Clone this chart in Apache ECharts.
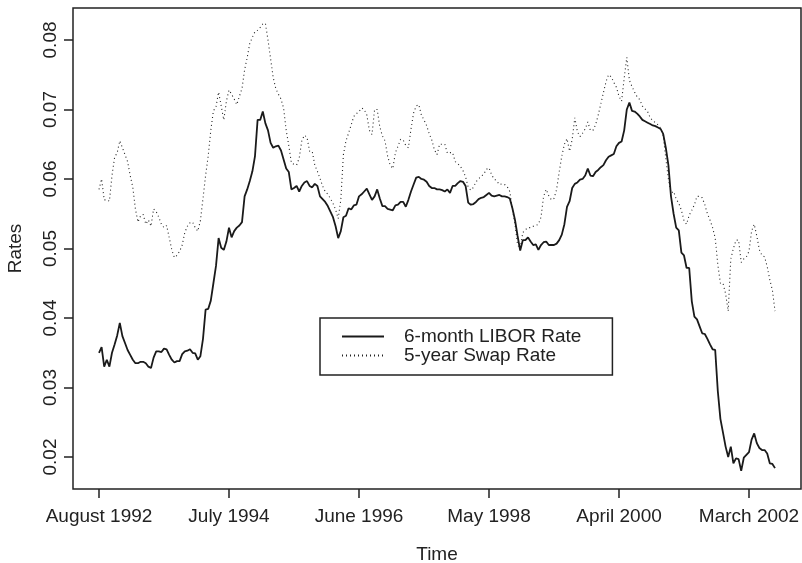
<!DOCTYPE html>
<html>
<head>
<meta charset="utf-8">
<script src="https://cdn.jsdelivr.net/npm/echarts@6/dist/echarts.min.js"></script>
<style>
html, body { margin: 0; padding: 0; background: #fff; }
#chart { width: 802px; height: 563px; }
</style>
</head>
<body>
<div id="chart"></div>
<script>
// weekly series, read every 2 weeks starting August 1992
var sampleStep = 2;

var xTicks = [0, 100, 200, 300, 400, 500];
var xTickLabels = ['August 1992', 'July 1994', 'June 1996', 'May 1998', 'April 2000', 'March 2002'];
var yTicks = [0.02, 0.03, 0.04, 0.05, 0.06, 0.07, 0.08];

var libor = [
    0.0350, 0.0358, 0.0330, 0.0340, 0.0330, 0.0350, 0.0362, 0.0375, 0.0393, 0.0374,
    0.0364, 0.0354, 0.0347, 0.0340, 0.0335, 0.0335, 0.0337, 0.0337, 0.0335, 0.0330,
    0.0328, 0.0343, 0.0352, 0.0352, 0.0351, 0.0356, 0.0355, 0.0347, 0.0340, 0.0336,
    0.0338, 0.0338, 0.0348, 0.0352, 0.0353, 0.0355, 0.0350, 0.0349, 0.0340, 0.0345,
    0.0370, 0.0412, 0.0413, 0.0425, 0.0450, 0.0475, 0.0515, 0.0501, 0.0498, 0.0510,
    0.0530, 0.0516, 0.0525, 0.0530, 0.0533, 0.0538, 0.0575, 0.0585, 0.0597, 0.0611,
    0.0633, 0.0685, 0.0685, 0.0697, 0.0680, 0.0670, 0.0652, 0.0645, 0.0647, 0.0648,
    0.0641, 0.0628, 0.0615, 0.0610, 0.0585, 0.0587, 0.0590, 0.0582, 0.0590, 0.0595,
    0.0597, 0.0590, 0.0588, 0.0593, 0.0590, 0.0575, 0.0571, 0.0567, 0.0561, 0.0553,
    0.0545, 0.0532, 0.0515, 0.0525, 0.0545, 0.0547, 0.0558, 0.0556, 0.0562, 0.0563,
    0.0575, 0.0578, 0.0582, 0.0586, 0.0578, 0.0570, 0.0575, 0.0585, 0.0572, 0.0561,
    0.0561, 0.0557, 0.0556, 0.0555, 0.0562, 0.0563, 0.0567, 0.0567, 0.0560, 0.0570,
    0.0582, 0.0592, 0.0602, 0.0603, 0.0600, 0.0599, 0.0596, 0.0590, 0.0587, 0.0587,
    0.0585, 0.0585, 0.0584, 0.0582, 0.0585, 0.0580, 0.0590, 0.0590, 0.0594, 0.0597,
    0.0596, 0.0590, 0.0566, 0.0563, 0.0564, 0.0567, 0.0571, 0.0573, 0.0574, 0.0577,
    0.0580, 0.0576, 0.0575, 0.0576, 0.0577, 0.0575, 0.0575, 0.0574, 0.0572, 0.0558,
    0.0541, 0.0518, 0.0497, 0.0512, 0.0512, 0.0516, 0.0510, 0.0505, 0.0506, 0.0498,
    0.0505, 0.0509, 0.0510, 0.0505, 0.0505, 0.0505, 0.0507, 0.0512, 0.0520, 0.0535,
    0.0560, 0.0568, 0.0587, 0.0593, 0.0595, 0.0599, 0.0600, 0.0605, 0.0615, 0.0605,
    0.0604, 0.0610, 0.0613, 0.0617, 0.0620, 0.0627, 0.0632, 0.0634, 0.0636, 0.0647,
    0.0652, 0.0654, 0.0670, 0.0700, 0.0710, 0.0698, 0.0697, 0.0694, 0.0690, 0.0685,
    0.0683, 0.0681, 0.0679, 0.0677, 0.0676, 0.0674, 0.0672, 0.0665, 0.0645, 0.0620,
    0.0575, 0.0550, 0.0530, 0.0526, 0.0494, 0.0490, 0.0472, 0.0472, 0.0424, 0.0402,
    0.0398, 0.0388, 0.0378, 0.0377, 0.0370, 0.0362, 0.0355, 0.0354, 0.0295, 0.0255,
    0.0235, 0.0215, 0.0200, 0.0215, 0.0191, 0.0198, 0.0197, 0.0180, 0.0199, 0.0203,
    0.0207, 0.0225, 0.0234, 0.0220, 0.0213, 0.0210, 0.0210, 0.0205, 0.0191, 0.0190,
    0.0184
];

var swap = [
    0.0585, 0.0600, 0.0570, 0.0570, 0.0568, 0.0605, 0.0631, 0.0638, 0.0655, 0.0645,
    0.0635, 0.0625, 0.0605, 0.0588, 0.0557, 0.0538, 0.0547, 0.0549, 0.0535, 0.0541,
    0.0532, 0.0557, 0.0553, 0.0545, 0.0535, 0.0530, 0.0533, 0.0516, 0.0498, 0.0487,
    0.0490, 0.0496, 0.0505, 0.0523, 0.0532, 0.0537, 0.0538, 0.0530, 0.0525, 0.0540,
    0.0572, 0.0605, 0.0633, 0.0670, 0.0698, 0.0704, 0.0725, 0.0705, 0.0685, 0.0712,
    0.0728, 0.0722, 0.0715, 0.0707, 0.0719, 0.0730, 0.0757, 0.0775, 0.0795, 0.0804,
    0.0812, 0.0814, 0.0818, 0.0823, 0.0824, 0.0800, 0.0773, 0.0746, 0.0730, 0.0722,
    0.0715, 0.0702, 0.0670, 0.0648, 0.0623, 0.0621, 0.0620, 0.0630, 0.0655, 0.0663,
    0.0660, 0.0640, 0.0640, 0.0620, 0.0611, 0.0601, 0.0590, 0.0582, 0.0578, 0.0572,
    0.0565, 0.0556, 0.0543, 0.0570, 0.0635, 0.0655, 0.0666, 0.0678, 0.0690, 0.0694,
    0.0697, 0.0702, 0.0700, 0.0692, 0.0670, 0.0664, 0.0700, 0.0700, 0.0675, 0.0662,
    0.0655, 0.0633, 0.0620, 0.0615, 0.0638, 0.0647, 0.0657, 0.0656, 0.0648, 0.0645,
    0.0672, 0.0695, 0.0705, 0.0707, 0.0692, 0.0685, 0.0677, 0.0665, 0.0656, 0.0642,
    0.0635, 0.0650, 0.0650, 0.0650, 0.0637, 0.0638, 0.0638, 0.0625, 0.0622, 0.0618,
    0.0612, 0.0603, 0.0588, 0.0584, 0.0588, 0.0596, 0.0600, 0.0604, 0.0607, 0.0614,
    0.0616, 0.0606, 0.0600, 0.0597, 0.0592, 0.0593, 0.0592, 0.0589, 0.0582, 0.0556,
    0.0535, 0.0505, 0.0500, 0.0523, 0.0527, 0.0530, 0.0530, 0.0532, 0.0533, 0.0535,
    0.0545, 0.0575, 0.0585, 0.0576, 0.0570, 0.0572, 0.0585, 0.0610, 0.0633, 0.0650,
    0.0658, 0.0640, 0.0657, 0.0688, 0.0668, 0.0661, 0.0666, 0.0672, 0.0682, 0.0670,
    0.0670, 0.0678, 0.0692, 0.0708, 0.0724, 0.0740, 0.0750, 0.0747, 0.0739, 0.0732,
    0.0719, 0.0712, 0.0745, 0.0775, 0.0742, 0.0733, 0.0725, 0.0718, 0.0714, 0.0705,
    0.0701, 0.0697, 0.0688, 0.0684, 0.0681, 0.0678, 0.0673, 0.0662, 0.0630, 0.0600,
    0.0580, 0.0582, 0.0571, 0.0565, 0.0555, 0.0540, 0.0535, 0.0548, 0.0555, 0.0563,
    0.0575, 0.0575, 0.0573, 0.0563, 0.0550, 0.0541, 0.0530, 0.0515, 0.0477, 0.0450,
    0.0450, 0.0435, 0.0410, 0.0485, 0.0500, 0.0512, 0.0512, 0.0480, 0.0485, 0.0488,
    0.0496, 0.0525, 0.0535, 0.0518, 0.0498, 0.0490, 0.0488, 0.0474, 0.0455, 0.0440,
    0.0410
];

function toPoints(values) {
    return values.map(function (v, i) { return [i * sampleStep, v]; });
}

var font = '"Liberation Sans", Arial, Helvetica, sans-serif';
var ink = '#222';

var myChart = echarts.init(document.getElementById('chart'));
var option = {
    animation: false,
    backgroundColor: '#fff',
    color: ['#1a1a1a', '#222'],
    grid: {
        left: 73, right: 1, top: 8, bottom: 74,
        show: true, borderColor: ink, borderWidth: 1.5,
        containLabel: false, outerBoundsMode: 'none'
    },
    legend: {
        orient: 'vertical',
        left: 320, top: 318,
        padding: [9, 31, 10, 21],
        itemGap: 0, itemWidth: 42, itemHeight: 19,
        borderColor: ink, borderWidth: 1.5, borderRadius: 0,
        selectedMode: false,
        itemStyle: { opacity: 0 },
        textStyle: { fontFamily: font, fontSize: 19, color: ink, lineHeight: 19, padding: [0, 0, 0, 15] },
        data: ['6-month LIBOR Rate', '5-year Swap Rate']
    },
    xAxis: {
        type: 'value', min: -20, max: 540,
        name: 'Time', nameLocation: 'middle', nameGap: 56,
        nameTextStyle: { fontFamily: font, fontSize: 19, color: ink },
        axisLine: { show: false, onZero: false },
        splitLine: { show: false },
        axisTick: { show: true, length: 9, customValues: xTicks, lineStyle: { color: ink, width: 1.5 } },
        axisLabel: {
            customValues: xTicks, margin: 18,
            fontFamily: font, fontSize: 19, color: ink,
            formatter: function (v) { return xTickLabels[xTicks.indexOf(v)]; }
        }
    },
    yAxis: {
        type: 'value', min: 0.0154, max: 0.0846,
        name: 'Rates', nameLocation: 'middle', nameGap: 48,
        nameTextStyle: { fontFamily: font, fontSize: 19, color: ink },
        axisLine: { show: false, onZero: false },
        splitLine: { show: false },
        axisTick: { show: true, length: 9, customValues: yTicks, lineStyle: { color: ink, width: 1.5 } },
        axisLabel: {
            customValues: yTicks, margin: 13, rotate: 90,
            fontFamily: font, fontSize: 19, color: ink,
            formatter: function (v) { return v.toFixed(2); }
        }
    },
    series: [
        {
            name: '6-month LIBOR Rate',
            type: 'line',
            data: toPoints(libor),
            symbol: 'none',
            itemStyle: { color: '#1a1a1a' },
            lineStyle: { color: '#1a1a1a', width: 1.8, type: 'solid' },
            z: 3
        },
        {
            name: '5-year Swap Rate',
            type: 'line',
            data: toPoints(swap),
            symbol: 'none',
            itemStyle: { color: '#222' },
            lineStyle: { color: '#222', width: 1.1, type: [1, 3] },
            z: 2
        }
    ]
};
myChart.setOption(option);
window.addEventListener('resize', function () {
    myChart.resize();
});
</script>
</body>
</html>
